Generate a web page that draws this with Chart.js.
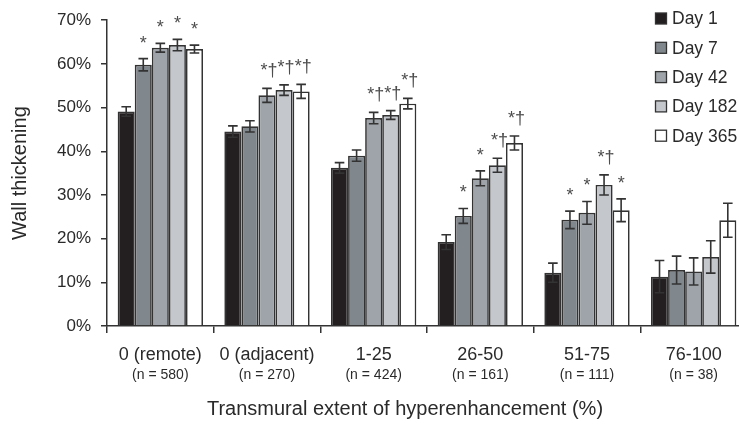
<!DOCTYPE html>
<html>
<head>
<meta charset="utf-8">
<script src="https://cdn.jsdelivr.net/npm/chart.js@4"></script>
<style>
  html, body { margin: 0; padding: 0; background: #fff; overflow: hidden; }
  #wrap { width: 748px; height: 424px; }
</style>
</head>
<body>
<div id="wrap"><canvas id="chart" width="748" height="424"></canvas></div>
<script>
// Wall thickening by transmural extent of hyperenhancement, per follow-up day
const categories = ['0 (remote)', '0 (adjacent)', '1-25', '26-50', '51-75', '76-100'];
const sampleSizes = ['(n = 580)', '(n = 270)', '(n = 424)', '(n = 161)', '(n = 111)', '(n = 38)'];
const seriesNames = ['Day 1', 'Day 7', 'Day 42', 'Day 182', 'Day 365'];
const yTicks = [0, 10, 20, 30, 40, 50, 60, 70];
const xTitle = 'Transmural extent of hyperenhancement (%)';

// mean wall thickening (%)
const day1 = [49.1, 44.5, 36.2, 19.2, 12.2, 11.3];
const day7 = [59.8, 45.7, 39.0, 25.2, 24.3, 12.8];
const day42 = [63.7, 52.8, 47.6, 33.8, 25.9, 12.5];
const day182 = [64.3, 54.0, 48.3, 36.8, 32.3, 15.8];
const day365 = [63.4, 53.7, 50.9, 41.9, 26.5, 24.2];

// standard error (%)
const day1Err = [1.1, 1.3, 1.2, 1.7, 2.2, 3.7];
const day7Err = [1.4, 1.3, 1.3, 1.7, 2.0, 3.2];
const day42Err = [1.0, 1.6, 1.3, 1.7, 2.6, 3.1];
const day182Err = [1.3, 1.2, 1.0, 1.6, 2.3, 3.7];
const day365Err = [0.9, 1.6, 1.2, 1.6, 2.6, 3.9];

// significance marks
const day1Marks = ['', '', '', '', '', ''];
const day7Marks = ['*', '', '', '*', '*', ''];
const day42Marks = ['*', '*†', '*†', '*', '*', ''];
const day182Marks = ['*', '*†', '*†', '*†', '*†', ''];
const day365Marks = ['*', '*†', '*†', '*†', '*', ''];

const seriesValues = [day1, day7, day42, day182, day365];
const seriesErrors = [day1Err, day7Err, day42Err, day182Err, day365Err];
const seriesMarks = [day1Marks, day7Marks, day42Marks, day182Marks, day365Marks];
const fills = ['#231f20', '#80878d', '#9ea4a9', '#c4c7cc', '#ffffff'];

const INK = '#2a2a2a';
const EDGE = '#333333';
const FONT = 'Liberation Sans, Arial, Helvetica, sans-serif';

const errorBars = {
  id: 'errorBars',
  afterDatasetsDraw(chart) {
    const ctx = chart.ctx;
    const y = chart.scales.y;
    ctx.save();
    chart.data.datasets.forEach((ds, d) => {
      const meta = chart.getDatasetMeta(d);
      meta.data.forEach((bar, i) => {
        const v = ds.data[i];
        const e = seriesErrors[d][i];
        const x = bar.x;
        const yHi = y.getPixelForValue(v + e);
        const yLo = y.getPixelForValue(v - e);
        const cap = 4.8;
        ctx.strokeStyle = EDGE;
        ctx.lineWidth = 1.6;
        ctx.beginPath();
        ctx.moveTo(x, yHi); ctx.lineTo(x, yLo);
        ctx.moveTo(x - cap, yHi); ctx.lineTo(x + cap, yHi);
        ctx.moveTo(x - cap, yLo); ctx.lineTo(x + cap, yLo);
        ctx.stroke();
        const mark = seriesMarks[d][i];
        if (mark) {
          ctx.fillStyle = '#4d4d4d';
          ctx.font = '18px ' + FONT;
          ctx.textAlign = 'center';
          ctx.textBaseline = 'alphabetic';
          const dual = mark.length > 1;
          ctx.fillText(mark, x + (dual ? 2 : 0), yHi - (dual ? 12 : 10));
        }
      });
    });
    ctx.restore();
  }
};

const sampleLabels = {
  id: 'sampleLabels',
  afterDraw(chart) {
    const ctx = chart.ctx;
    const x = chart.scales.x;
    ctx.save();
    ctx.fillStyle = INK;
    ctx.font = '14px ' + FONT;
    ctx.textAlign = 'center';
    ctx.textBaseline = 'middle';
    sampleSizes.forEach((s, i) => {
      ctx.fillText(s, x.getPixelForValue(i), x.top + 49);
    });
    // axis title
    ctx.font = '20px ' + FONT;
    ctx.fillText(xTitle, 405, 409);
    ctx.restore();
  }
};

const cornerLegend = {
  id: 'cornerLegend',
  afterDraw(chart) {
    const ctx = chart.ctx;
    ctx.save();
    ctx.font = '17.5px ' + FONT;
    ctx.textAlign = 'left';
    ctx.textBaseline = 'middle';
    chart.data.datasets.forEach((ds, d) => {
      const cy = 18.5 + d * 29.3;
      ctx.fillStyle = ds.backgroundColor;
      ctx.fillRect(655.5, cy - 5.5, 11, 11);
      ctx.strokeStyle = EDGE;
      ctx.lineWidth = 1.3;
      ctx.strokeRect(655.5, cy - 5.5, 11, 11);
      ctx.fillStyle = INK;
      ctx.fillText(ds.label, 672, cy + 1);
    });
    ctx.restore();
  }
};

new Chart(document.getElementById('chart'), {
  type: 'bar',
  data: {
    labels: categories,
    datasets: seriesNames.map((name, d) => ({
      label: name,
      data: seriesValues[d],
      backgroundColor: fills[d],
      borderColor: EDGE,
      borderWidth: 1.7,
      categoryPercentage: 0.8,
      barPercentage: 1.0
    }))
  },
  options: {
    responsive: false,
    animation: false,
    devicePixelRatio: 1,
    layout: { padding: { top: 15, right: 1, left: 0, bottom: 0 } },
    plugins: { legend: { display: false }, tooltip: { enabled: false } },
    scales: {
      x: {
        offset: true,
        grid: { display: true, drawOnChartArea: false, drawTicks: true, tickLength: 7, offset: true, color: EDGE, lineWidth: 1.5 },
        border: { display: true, color: EDGE, width: 1.5 },
        ticks: { color: INK, font: { family: FONT, size: 18 }, padding: 11, maxRotation: 0, autoSkip: false },
        afterFit(scale) { scale.height = 98; }
      },
      y: {
        min: 0, max: 70,
        afterBuildTicks(scale) { scale.ticks = yTicks.map(v => ({ value: v })); },
        grid: { display: true, drawOnChartArea: false, drawTicks: true, tickLength: 6, color: EDGE, lineWidth: 1.5 },
        border: { display: true, color: EDGE, width: 1.5 },
        ticks: { color: INK, font: { family: FONT, size: 17 }, padding: 10, callback: v => v + '%' },
        title: { display: true, text: 'Wall thickening', color: INK,
                 font: { family: FONT, size: 20, lineHeight: 1.2 }, padding: { top: 8, bottom: 0 } },
        afterFit(scale) { scale.width = 107; }
      }
    }
  },
  plugins: [errorBars, sampleLabels, cornerLegend]
});
</script>
</body>
</html>
